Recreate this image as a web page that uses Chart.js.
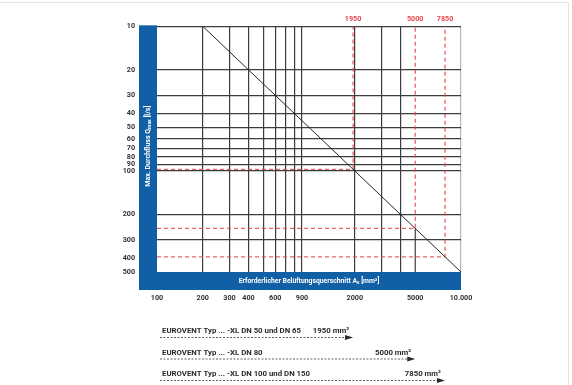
<!DOCTYPE html>
<html>
<head>
<meta charset="utf-8">
<script src="https://cdn.jsdelivr.net/npm/chart.js@4.4.1/dist/chart.umd.min.js"></script>
<style>
  html, body { margin: 0; padding: 0; background: #fff; }
  #wrap { position: relative; width: 572px; height: 385px; }
  #frame { position: absolute; left: 0; top: 2px; right: 3px; bottom: 0;
           border-top: 1px solid #e4e4e4; border-right: 1px solid #e4e4e4; pointer-events: none; }
</style>
</head>
<body>
<div id="wrap">
  <canvas id="chart" width="572" height="385"></canvas>
  <div id="frame"></div>
</div>
<script>
// axis ticks
const xTickValues = [100, 200, 300, 400, 500, 600, 700, 800, 900, 2000, 3000, 4000, 5000, 10000];
const xTickLabels = ["100", "200", "300", "400", "", "600", "", "", "900", "2000", "", "", "5000", "10.000"];
const yTickValues = [10, 20, 30, 40, 50, 60, 70, 80, 90, 100, 200, 300, 400, 500];
const yTickLabels = ["10", "20", "30", "40", "50", "60", "70", "80", "90", "100", "200", "300", "400", "500"];

// required area A_s [mm²] against max. flow Q_max [l/s]
const lineArea = [200, 10000];
const lineFlow = [10, 500];

// marked products
const markArea = [1950, 5000, 7850];
const markFlow = [97.5, 250, 392.5];
const markLabels = ["1950", "5000", "7850"];
const productNames = [
  "EUROVENT Typ ... -XL DN 50 und DN 65",
  "EUROVENT Typ ... -XL DN 80",
  "EUROVENT Typ ... -XL DN 100 und DN 150"
];
const productAreaText = ["1950 mm²", "5000 mm²", "7850 mm²"];

const FONT = "Roboto, 'Liberation Sans', sans-serif";
const BLUE = "#115fa5";
const GRID = "#3d3d3d";
const RED = "rgba(232, 70, 75, 0.85)";

Chart.defaults.font.family = FONT;

function setTicks(values) {
  return (scale) => {
    scale.ticks = values.map(v => ({ value: v }));
  };
}

// text with a subscript part: parts = [[text, isSub], ...]
function drawParts(ctx, parts, cx, cy, size) {
  const subSize = size * 0.72;
  let total = 0;
  const widths = parts.map(([t, sub]) => {
    ctx.font = `bold ${sub ? subSize : size}px ${FONT}`;
    const w = ctx.measureText(t).width;
    total += w;
    return w;
  });
  let x = cx - total / 2;
  parts.forEach(([t, sub], i) => {
    ctx.font = `bold ${sub ? subSize : size}px ${FONT}`;
    ctx.fillText(t, x, cy + (sub ? size * 0.3 : 0));
    x += widths[i];
  });
}

const decor = {
  id: "decor",
  beforeDraw(chart) {
    const { ctx, chartArea: a } = chart;
    ctx.save();
    ctx.fillStyle = BLUE;
    ctx.fillRect(a.left - 18, a.top - 1, 18, a.bottom - a.top + 19);
    ctx.fillRect(a.left - 18, a.bottom, a.right - a.left + 18, 18);
    ctx.restore();
  },
  afterDraw(chart) {
    const { ctx, chartArea: a } = chart;
    const xs = chart.scales.x;
    ctx.save();
    ctx.fillStyle = "#fff";
    ctx.textBaseline = "middle";
    ctx.textAlign = "left";
    // x title in bottom band
    drawParts(ctx, [["Erforderlicher Belüftungsquerschnitt A", false], ["s", true], [" [mm²]", false]],
      (a.left + a.right) / 2, a.bottom + 9, 6.8);
    // y title in left band
    ctx.translate(a.left - 9, (a.top + a.bottom) / 2 - 3);
    ctx.rotate(-Math.PI / 2);
    drawParts(ctx, [["Max. Durchfluss Q", false], ["max", true], [" [l/s]", false]], 0, 0, 7);
    ctx.restore();

    // product rows below the chart
    ctx.save();
    productNames.forEach((name, i) => {
      const ly = a.bottom + 65 + i * 21.5;
      const end = xs.getPixelForValue(markArea[i]);
      const start = a.left + 3;
      ctx.fillStyle = "#2a2a2a";
      ctx.textBaseline = "bottom";
      ctx.font = `bold 7.8px ${FONT}`;
      ctx.textAlign = "left";
      ctx.fillText(name, a.left + 5, ly - 2);
      ctx.textAlign = "right";
      ctx.fillText(productAreaText[i], end - 4, ly - 2);
      ctx.strokeStyle = "#3a3a3a";
      ctx.lineWidth = 0.8;
      ctx.setLineDash([2, 1.5]);
      ctx.beginPath();
      ctx.moveTo(start, ly + 0.5);
      ctx.lineTo(end - 6, ly + 0.5);
      ctx.stroke();
      ctx.setLineDash([]);
      ctx.beginPath();
      ctx.moveTo(end - 8, ly - 2);
      ctx.lineTo(end, ly + 0.5);
      ctx.lineTo(end - 8, ly + 3);
      ctx.closePath();
      ctx.fill();
    });
    ctx.restore();
  }
};

const datasets = [
  {
    data: lineArea.map((v, i) => ({ x: v, y: lineFlow[i] })),
    borderColor: "#262626",
    borderWidth: 1
  }
];
markArea.forEach((v, i) => {
  datasets.push({
    data: [{ x: 100, y: markFlow[i] }, { x: v, y: markFlow[i] }, { x: v, y: 10 }],
    borderColor: RED,
    borderWidth: 1.3,
    borderDash: [4, 3]
  });
});
// 5000 grid line continues only below the marked point
datasets.push({
  data: [{ x: markArea[1], y: markFlow[1] }, { x: markArea[1], y: 500 }],
  borderColor: GRID,
  borderWidth: 1.2
});

new Chart(document.getElementById("chart"), {
  type: "scatter",
  data: {
    datasets: datasets.map(d => Object.assign({ showLine: true, pointRadius: 0, fill: false }, d))
  },
  options: {
    responsive: false,
    animation: false,
    events: [],
    layout: { padding: { left: 0, right: 111, top: 0, bottom: 73 } },
    plugins: { legend: { display: false }, tooltip: { enabled: false } },
    scales: {
      x: {
        type: "logarithmic",
        position: "bottom",
        min: 100,
        max: 10000,
        afterBuildTicks: setTicks(xTickValues),
        afterFit: (s) => { s.height = 40; },
        border: { display: false },
        grid: {
          drawTicks: false,
          lineWidth: 1.2,
          color: (c) => {
            const v = c.tick && c.tick.value;
            if (v === 10000) return "#b5b5b5";
            if (v === 100 || v === 5000) return "rgba(0,0,0,0)";
            return GRID;
          }
        },
        ticks: {
          autoSkip: false,
          maxRotation: 0,
          padding: 22,
          color: "#333",
          font: { size: 7.2, weight: "bold" },
          callback: (v, i) => xTickLabels[i]
        }
      },
      x2: {
        type: "logarithmic",
        position: "top",
        min: 100,
        max: 10000,
        afterBuildTicks: setTicks(markArea),
        afterFit: (s) => { s.height = 23; },
        border: { display: false },
        grid: { display: false, drawTicks: false },
        ticks: {
          autoSkip: false,
          maxRotation: 0,
          padding: 3,
          color: "#e8464b",
          font: { size: 7.2, weight: "bold" },
          callback: (v, i) => markLabels[i]
        }
      },
      y: {
        type: "logarithmic",
        position: "left",
        reverse: true,
        min: 10,
        max: 500,
        afterBuildTicks: setTicks(yTickValues),
        afterFit: (s) => { s.width = 157; },
        border: { display: false },
        grid: {
          drawTicks: false,
          lineWidth: 1.2,
          color: (c) => {
            const v = c.tick && c.tick.value;
            return (v === 400 || v === 500) ? "rgba(0,0,0,0)" : GRID;
          }
        },
        ticks: {
          autoSkip: false,
          padding: 22,
          color: "#333",
          font: { size: 7.2, weight: "bold" },
          callback: (v, i) => yTickLabels[i]
        }
      }
    }
  },
  plugins: [decor]
});
</script>
</body>
</html>
